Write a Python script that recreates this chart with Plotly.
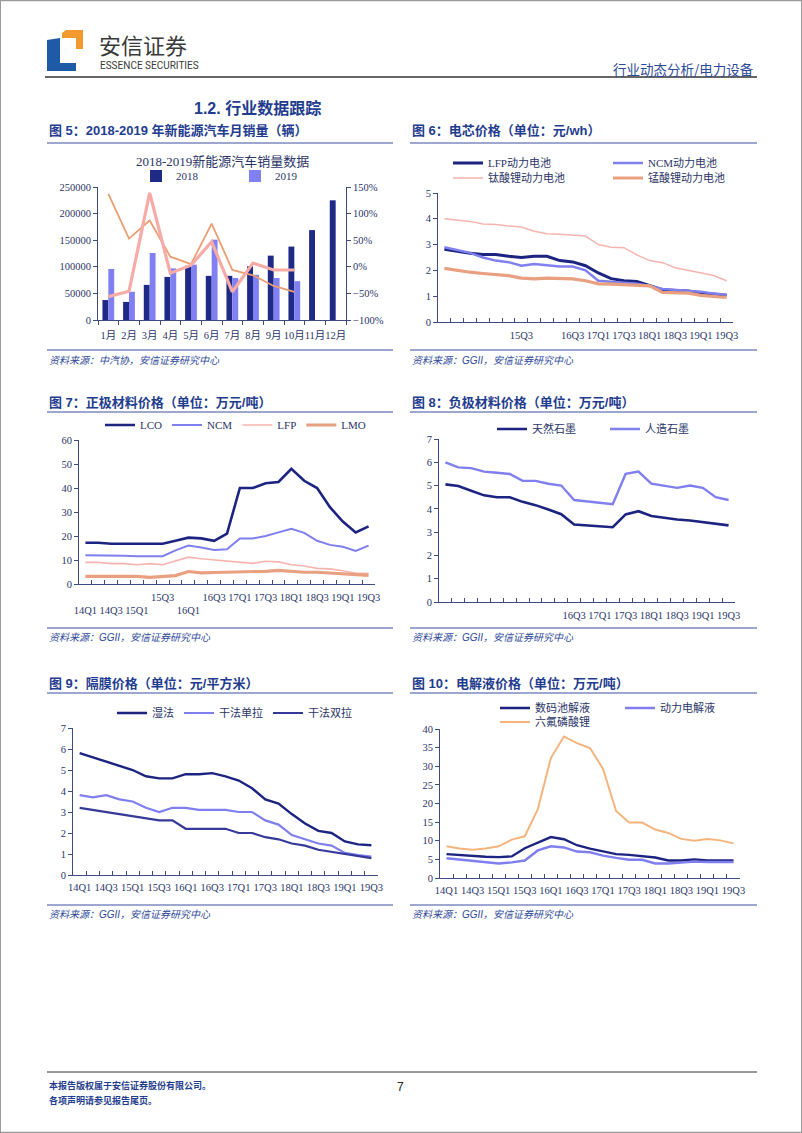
import plotly.graph_objects as go

W, H = 802, 1133
def px(x): return x / W
def py(y): return 1 - y / H

# ---------------- data ----------------
months = ["1月", "2月", "3月", "4月", "5月", "6月", "7月", "8月", "9月", "10月", "11月", "12月"]
sales_2018 = [37500, 34000, 66000, 81000, 102000, 83000, 83000, 101000, 121000, 138000, 169000, 225000]
sales_2019 = [96000, 53000, 126000, 97000, 104000, 151000, 79000, 85000, 79000, 73000, None, None]
growth_thin = [137, 53, 87, 19, 5, 81, -6, -16, -36, -47, None, None]
growth_thick = [-56, -46, 139, -12, 3, 47, -47, 7, -6, -6, None, None]

quarters = ["14Q1", "14Q2", "14Q3", "14Q4", "15Q1", "15Q2", "15Q3", "15Q4", "16Q1", "16Q2",
            "16Q3", "16Q4", "17Q1", "17Q2", "17Q3", "17Q4", "18Q1", "18Q2", "18Q3", "18Q4",
            "19Q1", "19Q2", "19Q3"]

# Fig 6 cell prices (元/wh)
cell_lfp = [2.82, 2.74, 2.66, 2.62, 2.62, 2.55, 2.5, 2.55, 2.55, 2.38, 2.33, 2.18, 1.9, 1.68, 1.6, 1.57, 1.42, 1.25, 1.22, 1.2, 1.12, 1.07, 1.04]
cell_ncm = [2.9, 2.8, 2.68, 2.5, 2.38, 2.32, 2.18, 2.25, 2.2, 2.15, 2.15, 2.0, 1.6, 1.55, 1.52, 1.48, 1.4, 1.28, 1.25, 1.22, 1.17, 1.1, 1.06]
cell_lto = [4.0, 3.95, 3.9, 3.8, 3.78, 3.72, 3.68, 3.52, 3.42, 3.4, 3.37, 3.33, 3.0, 2.9, 2.88, 2.6, 2.38, 2.3, 2.1, 2.0, 1.92, 1.8, 1.6]
cell_lmo = [2.08, 2.0, 1.93, 1.88, 1.85, 1.8, 1.7, 1.67, 1.7, 1.7, 1.67, 1.6, 1.48, 1.47, 1.45, 1.42, 1.4, 1.15, 1.13, 1.12, 1.03, 0.98, 0.95]

# Fig 7 cathode prices (万元/吨)
cat_lco = [17.2, 17.2, 16.8, 16.8, 16.8, 16.8, 16.8, 18.0, 19.3, 19.0, 18.0, 21.0, 40.0, 40.0, 42.0, 42.5, 48.0, 43.0, 40.0, 32.0, 26.0, 21.5, 24.0]
cat_ncm = [12.0, 12.0, 12.0, 11.8, 11.6, 11.6, 11.6, 14.0, 16.0, 15.2, 14.2, 14.5, 19.0, 19.0, 20.0, 21.5, 23.0, 21.3, 18.0, 16.3, 15.5, 13.8, 16.0]
cat_lfp = [9.0, 9.0, 8.5, 8.5, 8.0, 8.5, 8.0, 9.5, 11.2, 10.5, 10.0, 9.3, 9.0, 8.6, 9.5, 9.2, 8.0, 7.5, 6.5, 6.3, 5.5, 4.5, 4.5]
cat_lmo = [3.2, 3.2, 3.2, 3.2, 3.2, 2.8, 3.0, 3.5, 5.2, 4.6, 4.8, 4.9, 4.9, 5.0, 5.3, 5.7, 5.3, 4.9, 4.9, 4.5, 4.3, 3.9, 3.6]

# Fig 8 anode prices (万元/吨)
an_natural = [5.05, 4.98, 4.78, 4.58, 4.5, 4.5, 4.3, 4.16, 3.97, 3.77, 3.33, 3.29, 3.24, 3.21, 3.76, 3.9, 3.69, 3.6, 3.54, 3.5, 3.43, 3.37, 3.29]
an_synth = [6.0, 5.78, 5.75, 5.6, 5.55, 5.5, 5.2, 5.2, 5.08, 5.0, 4.38, 4.33, 4.25, 4.2, 5.5, 5.6, 5.08, 5.0, 4.9, 5.0, 4.9, 4.5, 4.38]

# Fig 9 separator prices (元/平方米)
sep_wet = [5.8, 5.6, 5.4, 5.2, 5.0, 4.7, 4.6, 4.6, 4.8, 4.8, 4.85, 4.7, 4.5, 4.13, 3.6, 3.4, 2.9, 2.45, 2.1, 2.0, 1.6, 1.46, 1.42]
sep_dry_single = [3.8, 3.7, 3.8, 3.6, 3.5, 3.2, 3.0, 3.2, 3.2, 3.1, 3.1, 3.1, 3.0, 3.0, 2.6, 2.4, 1.9, 1.7, 1.5, 1.4, 1.05, 0.95, 0.88]
sep_dry_double = [3.2, 3.1, 3.0, 2.9, 2.8, 2.7, 2.6, 2.6, 2.2, 2.2, 2.2, 2.2, 2.0, 2.0, 1.8, 1.7, 1.5, 1.4, 1.2, 1.1, 1.0, 0.9, 0.8]

# Fig 10 electrolyte prices (万元/吨)
el_digital = [6.4, 6.1, 5.9, 5.7, 5.6, 5.8, 8.0, 9.4, 11.0, 10.4, 8.8, 7.9, 7.1, 6.4, 6.2, 5.9, 5.5, 4.7, 4.7, 5.0, 4.7, 4.7, 4.7]
el_power = [5.3, 5.0, 4.5, 4.2, 3.9, 4.2, 4.7, 7.4, 8.5, 8.2, 7.1, 6.9, 6.0, 5.4, 4.9, 4.9, 3.9, 3.9, 4.2, 4.4, 4.3, 4.3, 4.3]
el_lipf6 = [8.5, 7.9, 7.6, 7.9, 8.5, 10.3, 11.2, 18.5, 32.2, 38.0, 36.2, 34.9, 29.3, 18.0, 14.9, 14.9, 13.0, 12.1, 10.5, 10.0, 10.5, 10.1, 9.3]

# tick labels
labels_fig6 = ["", "", "", "", "", "", "15Q3", "", "", "", "16Q3", "", "17Q1", "", "17Q3", "", "18Q1", "", "18Q3", "", "19Q1", "", "19Q3"]
labels_fig7 = ["<br>14Q1", "", "<br>14Q3", "", "<br>15Q1", "", "15Q3", "", "<br>16Q1", "", "16Q3", "", "17Q1", "", "17Q3", "", "18Q1", "", "18Q3", "", "19Q1", "", "19Q3"]
labels_fig8 = ["", "", "", "", "", "", "", "", "", "", "16Q3", "", "17Q1", "", "17Q3", "", "18Q1", "", "18Q3", "", "19Q1", "", "19Q3"]
labels_all = ["14Q1", "", "14Q3", "", "15Q1", "", "15Q3", "", "16Q1", "", "16Q3", "", "17Q1", "", "17Q3", "", "18Q1", "", "18Q3", "", "19Q1", "", "19Q3"]

# ---------------- styles ----------------
SERIF = "Liberation Serif, Times New Roman, Noto Sans CJK SC, serif"
CJK = "Noto Sans CJK SC, sans-serif"
SANSB = "Liberation Sans, Arial, Noto Sans CJK SC, sans-serif"
AX = "#3E4B7E"
TXT = "#2B3568"
BLUE = "#1F3C8F"
NAVY = "#1C2380"
LAV = "#7F7FEF"
PINK = "#F7B4AE"
SALMON = "#E8A080"
ORANGE = "#F5B47E"
INDIGO = "#34399A"

fig = go.Figure()

def line(x, y, name, color, width, xa, ya, legend, show=True):
    fig.add_trace(go.Scatter(x=x, y=y, name=name, mode="lines", line=dict(color=color, width=width),
                             xaxis=xa, yaxis=ya, legend=legend, showlegend=show, hoverinfo="x+y+name"))

# Fig 5
fig.add_trace(go.Bar(x=months, y=sales_2018, name="2018", marker=dict(color="#1F2A86", line=dict(width=0)),
                     xaxis="x", yaxis="y", legend="legend"))
fig.add_trace(go.Bar(x=months, y=sales_2019, name="2019", marker=dict(color="#8080F2", line=dict(width=0)),
                     xaxis="x", yaxis="y", legend="legend"))
line(months, growth_thin, "同比", "#EA9E72", 1.8, "x", "y2", "legend", False)
line(months, growth_thick, "环比", "#F6ABA6", 3.2, "x", "y2", "legend", False)

# Fig 6
line(quarters, cell_lfp, "LFP动力电池", NAVY, 3, "x2", "y3", "legend2")
line(quarters, cell_ncm, "NCM动力电池", LAV, 2.5, "x2", "y3", "legend2")
line(quarters, cell_lto, "钛酸锂动力电池", PINK, 1.5, "x2", "y3", "legend3")
line(quarters, cell_lmo, "锰酸锂动力电池", SALMON, 3.2, "x2", "y3", "legend3")

# Fig 7
line(quarters, cat_lco, "LCO", NAVY, 2.6, "x3", "y4", "legend4")
line(quarters, cat_ncm, "NCM", LAV, 2, "x3", "y4", "legend4")
line(quarters, cat_lfp, "LFP", PINK, 1.6, "x3", "y4", "legend4")
line(quarters, cat_lmo, "LMO", SALMON, 3.2, "x3", "y4", "legend4")

# Fig 8
line(quarters, an_natural, "天然石墨", NAVY, 2.6, "x4", "y5", "legend5")
line(quarters, an_synth, "人造石墨", LAV, 2.4, "x4", "y5", "legend5")

# Fig 9
line(quarters, sep_wet, "湿法", NAVY, 2.4, "x5", "y6", "legend6")
line(quarters, sep_dry_single, "干法单拉", LAV, 2.2, "x5", "y6", "legend6")
line(quarters, sep_dry_double, "干法双拉", INDIGO, 2.2, "x5", "y6", "legend6")

# Fig 10
line(quarters, el_digital, "数码池解液", NAVY, 2.4, "x6", "y7", "legend7")
line(quarters, el_power, "动力电解液", LAV, 2.4, "x6", "y7", "legend7")
line(quarters, el_lipf6, "六氟磷酸锂", ORANGE, 2, "x6", "y7", "legend8")

# ---------------- axes ----------------
tickfont = dict(family=SERIF, size=10.5, color=TXT)

def xaxis(x0, x1, anchor, cats, labels, ticksdir="inside", standoff=3):
    return dict(domain=[px(x0), px(x1)], anchor=anchor, type="category",
                categoryorder="array", categoryarray=cats, range=[-0.5, len(cats) - 0.5],
                tickmode="array", tickvals=cats, ticktext=labels, tickson="boundaries",
                ticks=ticksdir, ticklen=4, tickcolor=AX, tickwidth=1, tickangle=0,
                ticklabelstandoff=standoff,
                showline=True, linecolor=AX, linewidth=1, showgrid=False, zeroline=False,
                tickfont=tickfont, fixedrange=True, automargin=False)

def yaxis(ytop, ybot, anchor, rng, dtick, **kw):
    d = dict(domain=[py(ybot), py(ytop)], anchor=anchor, range=rng, dtick=dtick, tick0=rng[0],
             showline=True, linecolor=AX, linewidth=1, ticks="outside", ticklen=4, tickcolor=AX,
             showgrid=False, zeroline=False, tickfont=tickfont, fixedrange=True, automargin=False)
    d.update(kw)
    return d

layout = dict(
    width=W, height=H, autosize=False,
    margin=dict(l=0, r=0, t=0, b=0, pad=0, autoexpand=False),
    paper_bgcolor="white", plot_bgcolor="white",
    barmode="group", bargap=0.43, bargroupgap=0,
    hovermode="closest",
    xaxis=xaxis(98, 346, "y", months, months, "outside", 5),
    yaxis=yaxis(187, 320, "x", [0, 250000], 50000, tickformat="d"),
    yaxis2=yaxis(187, 320, "x", [-100, 150], 50, overlaying="y", side="right", ticksuffix="%"),
    xaxis2=xaxis(438, 733, "y3", quarters, labels_fig6),
    yaxis3=yaxis(193, 322, "x2", [0, 5], 1),
    xaxis3=xaxis(79, 375, "y4", quarters, labels_fig7),
    yaxis4=yaxis(440, 584, "x3", [0, 60], 10),
    xaxis4=xaxis(439, 735, "y5", quarters, labels_fig8),
    yaxis5=yaxis(439, 602, "x4", [0, 7], 1),
    xaxis5=xaxis(73, 378, "y6", quarters, labels_all, standoff=2),
    yaxis6=yaxis(728, 875, "x5", [0, 7], 1),
    xaxis6=xaxis(440, 740, "y7", quarters, labels_all, standoff=2),
    yaxis7=yaxis(729, 878, "x6", [0, 40], 5),
)

def legend(x, y, entrywidth=None):
    d = dict(x=px(x), y=py(y), xanchor="left", yanchor="middle", orientation="h",
             bgcolor="rgba(0,0,0,0)", borderwidth=0, itemwidth=30, tracegroupgap=0,
             font=dict(family=SERIF, size=11, color=TXT), traceorder="normal",
             itemclick=False, itemdoubleclick=False)
    if entrywidth:
        d["entrywidth"] = entrywidth
        d["entrywidthmode"] = "pixels"
    return d

layout["legend"] = legend(136, 176, 54)
layout["legend2"] = legend(448, 163, 115)
layout["legend3"] = legend(448, 178, 115)
layout["legend4"] = legend(100, 425)
layout["legend5"] = legend(492, 429, 68)
layout["legend6"] = legend(112, 713)
layout["legend7"] = legend(495, 708, 80)
layout["legend8"] = legend(495, 722)
fig.update_layout(**layout)

# ---------------- page decorations ----------------
shapes = []
annos = []

def hline(y, x0, x1, color, width):
    shapes.append(dict(type="line", xref="paper", yref="paper", x0=px(x0), x1=px(x1), y0=py(y), y1=py(y),
                       line=dict(color=color, width=width)))

def text(x, y, s, size, color, family=CJK, xanchor="left", **kw):
    annos.append(dict(x=px(x), y=py(y), xref="paper", yref="paper", text=s, showarrow=False,
                      xanchor=xanchor, yanchor="middle", font=dict(family=family, size=size, color=color), **kw))

def poly(pts, color):
    p = "M " + " L ".join(f"{px(a):.5f},{py(b):.5f}" for a, b in pts) + " Z"
    shapes.append(dict(type="path", xref="paper", yref="paper", path=p, fillcolor=color, line=dict(width=0)))

# page border
shapes.append(dict(type="rect", xref="paper", yref="paper", x0=0.0005, x1=0.9995, y0=0.0005, y1=0.9995,
                   line=dict(color="#9A9A9A", width=1.2)))

# logo
poly([(62, 33), (66, 30), (83, 30), (83, 49), (76, 49), (76, 38), (62, 38)], "#F29A2E")
poly([(47, 40), (60, 38), (60, 63), (76, 63), (76, 71), (47, 71)], "#1F5AA6")
text(97, 44, "安信证券", 22, "#3A3A3A")
text(98, 66, "ESSENCE SECURITIES", 10, "#3A3A3A", family="Liberation Sans Narrow, Arial Narrow, Roboto, sans-serif")
text(756, 69, "行业动态分析/电力设备", 13.5, "#2C4A9A", xanchor="right")
hline(77, 45, 757, "#333333", 1.6)

# section title
text(257, 108, "<b>1.2. 行业数据跟踪</b>", 16, BLUE, family=SANSB, xanchor="center")

# figure titles + rules
titles = [
    (47, 131, "<b>图 5：2018-2019 年新能源汽车月销量（辆）</b>"),
    (410, 131, "<b>图 6：电芯价格（单位：元/wh）</b>"),
    (47, 402, "<b>图 7：正极材料价格（单位：万元/吨）</b>"),
    (410, 402, "<b>图 8：负极材料价格（单位：万元/吨）</b>"),
    (47, 683, "<b>图 9：隔膜价格（单位：元/平方米）</b>"),
    (410, 683, "<b>图 10：电解液价格（单位：万元/吨）</b>"),
]
for x, y, s in titles:
    text(x, y, s, 13, BLUE, family=SANSB)
for y in (143, 412, 693):
    hline(y, 47, 393, "#3A4FA0", 1)
    hline(y, 410, 757, "#3A4FA0", 1)

sources = [
    (47, 360, "资料来源：中汽协，安信证券研究中心"),
    (410, 360, "资料来源：GGII，安信证券研究中心"),
    (47, 637, "资料来源：GGII，安信证券研究中心"),
    (410, 637, "资料来源：GGII，安信证券研究中心"),
    (47, 914, "资料来源：GGII，安信证券研究中心"),
    (410, 914, "资料来源：GGII，安信证券研究中心"),
]
for x, y, s in sources:
    text(x, y, "<i>" + s + "</i>", 10, "#2F4A9A", family=SANSB)
for y in (350, 628, 905):
    hline(y, 47, 393, "#3A4FA0", 1)
    hline(y, 410, 757, "#3A4FA0", 1)

# fig 5 inner chart title
text(222, 162, "2018-2019新能源汽车销量数据", 13, TXT, family=SERIF, xanchor="center")

# footer
hline(1072, 47, 757, "#333333", 1)
text(47, 1085, "<b>本报告版权属于安信证券股份有限公司。</b>", 9, BLUE)
text(47, 1100, "<b>各项声明请参见报告尾页。</b>", 9, BLUE)
text(400, 1087, "7", 12, "#222222", family="Liberation Sans, Arial, sans-serif", xanchor="center")

fig.update_layout(shapes=shapes, annotations=annos)
fig.write_html("out.html")
